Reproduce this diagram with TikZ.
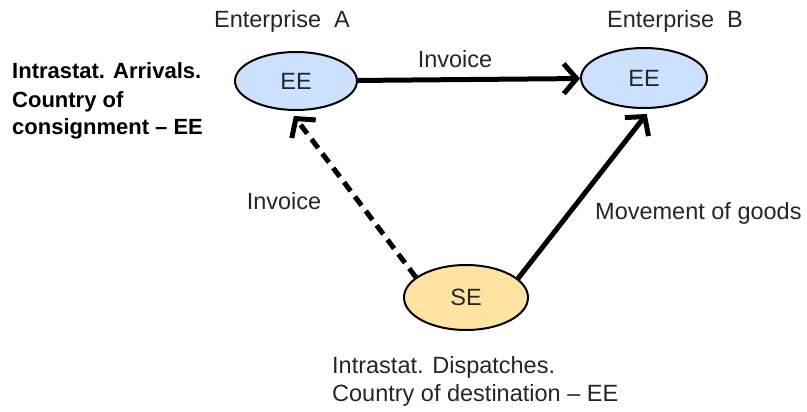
\documentclass[tikz,border=0pt]{standalone}
\usepackage{fontspec}
\setmainfont{Liberation Sans}
\usetikzlibrary{arrows.meta,shapes.geometric}
\definecolor{eeblue}{HTML}{CCE0FF}
\definecolor{seorange}{HTML}{FFE4A1}
\definecolor{txt}{HTML}{262626}
\begin{document}
\begin{tikzpicture}[x=1pt,y=-1pt,
  ent/.style={ellipse,draw=black,line width=2pt,inner sep=0pt,font=\fontsize{23.5}{24}\selectfont,text=txt},
  lbl/.style={font=\fontsize{23.5}{28}\selectfont,text=txt,inner sep=0pt},
  blbl/.style={font=\bfseries\fontsize{22}{28}\selectfont,text=black,inner sep=0pt},
  flow/.style={line width=5pt,-{Straight Barb[length=13pt,width=30pt]}}]
\useasboundingbox[fill=white] (0,0) rectangle (807,412);
\node[ent,fill=eeblue,minimum width=122pt,minimum height=58pt] (A) at (296,81) {EE};
\node[ent,fill=eeblue,minimum width=126pt,minimum height=60pt] (B) at (644,78) {EE};
\node[ent,fill=seorange,minimum width=124pt,minimum height=65pt] (SE) at (466,297.5) {SE};
\node[lbl,anchor=base] (entA) at (282,28) {Enterprise\ \ A};
\node[lbl,anchor=base] (entB) at (675,28) {Enterprise\ \ B};
\node[lbl,anchor=base] (inv1) at (455,68) {Invoice};
\node[lbl,anchor=base] (inv2) at (284,209) {Invoice};
\node[lbl,anchor=base west] (mov) at (595,219) {Movement of goods};
\node[blbl,align=left,anchor=base west] (arr) at (12,135) {Intrastat. Arrivals.\\Country of\\consignment – EE};
\node[lbl,align=left,anchor=base west] (disp) at (332,401) {Intrastat. Dispatches.\\Country of destination – EE};
\draw[flow] (A) -- (B);
\draw[flow,dash pattern=on 11pt off 7pt] (SE.158) -- ([yshift=-5pt]A.266);
\draw[flow] (SE.20) -- ([yshift=-5pt]B.-85);
\end{tikzpicture}
\end{document}
